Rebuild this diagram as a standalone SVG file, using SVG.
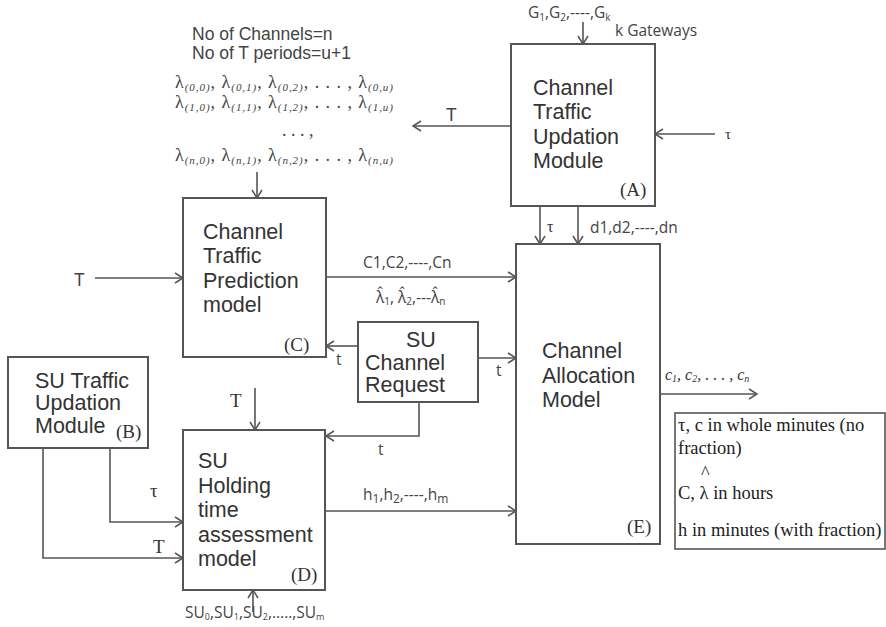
<svg xmlns="http://www.w3.org/2000/svg" width="886" height="627" viewBox="0 0 886 627">
<style>
.box{fill:#fff;stroke:#555;stroke-width:2}
.lbl{font-family:"Liberation Sans",Arial,sans-serif;font-size:21.5px;fill:#333}
.tag{font-family:"Liberation Serif","Times New Roman",serif;font-size:19px;fill:#333}
.sm{font-family:"Open Sans","Liberation Sans",sans-serif;font-size:15.5px;fill:#444}
.ser{font-family:"Liberation Serif","Times New Roman",serif;fill:#333}
.lam{font-family:"Liberation Serif","Times New Roman",serif;font-size:18px;fill:#444}
.sub{font-size:11px;font-style:italic}
.note{font-family:"Liberation Sans",Arial,sans-serif;font-size:17.5px;fill:#444}
.leg{font-family:"Liberation Serif","Times New Roman",serif;font-size:18.5px;fill:#222}
.con{fill:none;stroke:#555;stroke-width:1.6}
</style>
<defs>
<marker id="ah" markerWidth="12" markerHeight="12" refX="10" refY="6" orient="auto" markerUnits="userSpaceOnUse">
<path d="M2,1 L10,6 L2,11" fill="none" stroke="#555" stroke-width="1.5"/>
</marker>
</defs>
<rect width="886" height="627" fill="#fff"/>

<g id="connectors">
<path class="con" d="M583,22 V44" marker-end="url(#ah)"/>
<path class="con" d="M511,126 H413" marker-end="url(#ah)"/>
<path class="con" d="M715,134 H655" marker-end="url(#ah)"/>
<path class="con" d="M540,206 V244" marker-end="url(#ah)"/>
<path class="con" d="M578,206 V244" marker-end="url(#ah)"/>
<path class="con" d="M257,172 V198" marker-end="url(#ah)"/>
<path class="con" d="M95,278 H183" marker-end="url(#ah)"/>
<path class="con" d="M326,277 H516" marker-end="url(#ah)"/>
<path class="con" d="M358,346 H326" marker-end="url(#ah)"/>
<path class="con" d="M478,358 H516" marker-end="url(#ah)"/>
<path class="con" d="M419,402 V436 H326" marker-end="url(#ah)"/>
<path class="con" d="M255,388 V430" marker-end="url(#ah)"/>
<path class="con" d="M110,448 V522 H183" marker-end="url(#ah)"/>
<path class="con" d="M43,448 V558 H183" marker-end="url(#ah)"/>
<path class="con" d="M253,612 V590" marker-end="url(#ah)"/>
<path class="con" d="M326,511 H516" marker-end="url(#ah)"/>
<path class="con" d="M660,394 H757" marker-end="url(#ah)"/>
<text class="sm" x="528" y="18">G<tspan font-size="10" dy="3">1</tspan><tspan dy="-3">,G</tspan><tspan font-size="10" dy="3">2</tspan><tspan dy="-3">,----,G</tspan><tspan font-size="10" dy="3">k</tspan></text>
<text class="sm" x="615" y="36">k Gateways</text>
<text class="note" x="446" y="121">T</text>
<text class="ser" x="725" y="139" font-size="15">τ</text>
<text class="ser" x="547" y="232" font-size="16">τ</text>
<text class="sm" x="590" y="233">d1,d2,----,dn</text>
<text class="note" x="74" y="286">T</text>
<text class="sm" x="363" y="268">C1,C2,----,Cn</text>
<text class="sm" x="376" y="303" font-size="16">λ̂<tspan font-size="10" dy="2">1</tspan><tspan dy="-2">, λ̂</tspan><tspan font-size="10" dy="2">2</tspan><tspan dy="-2">,---λ̂</tspan><tspan font-size="10" dy="2">n</tspan></text>
<text class="sm" x="336" y="365" font-size="18">t</text>
<text class="sm" x="496" y="376" font-size="18">t</text>
<text class="sm" x="378" y="455" font-size="18">t</text>
<text class="ser" x="230" y="407" font-size="19">T</text>
<text class="ser" x="150" y="497" font-size="19">τ</text>
<text class="ser" x="153" y="553" font-size="19">T</text>
<text class="sm" x="363" y="500" font-size="18.5">h<tspan font-size="12" dy="3">1</tspan><tspan dy="-3">,h</tspan><tspan font-size="12" dy="3">2</tspan><tspan dy="-3">,----,h</tspan><tspan font-size="12" dy="3">m</tspan></text>
<text class="sm" x="185" y="618" font-size="12.5">SU<tspan font-size="9" dy="2">0</tspan><tspan dy="-2">,SU</tspan><tspan font-size="9" dy="2">1</tspan><tspan dy="-2">,SU</tspan><tspan font-size="9" dy="2">2</tspan><tspan dy="-2">,.....,SU</tspan><tspan font-size="9" dy="2">m</tspan></text>
<text class="ser" x="665" y="380" font-size="16" font-style="italic">c<tspan font-size="10" dy="2">1</tspan><tspan dy="-2">, c</tspan><tspan font-size="10" dy="2">2</tspan><tspan dy="-2">, . . . , c</tspan><tspan font-size="10" dy="2">n</tspan></text>
</g>

<g id="notes">
<text class="note" x="192" y="40">No of Channels=n</text>
<text class="note" x="192" y="59">No of T periods=u+1</text>
<text class="lam" x="175" y="88" textLength="218" lengthAdjust="spacing">λ<tspan class="sub" dy="3">(0,0)</tspan><tspan dy="-3">, λ</tspan><tspan class="sub" dy="3">(0,1)</tspan><tspan dy="-3">, λ</tspan><tspan class="sub" dy="3">(0,2)</tspan><tspan dy="-3">, . . . , λ</tspan><tspan class="sub" dy="3">(0,u)</tspan></text>
<text class="lam" x="175" y="108" textLength="218" lengthAdjust="spacing">λ<tspan class="sub" dy="3">(1,0)</tspan><tspan dy="-3">, λ</tspan><tspan class="sub" dy="3">(1,1)</tspan><tspan dy="-3">, λ</tspan><tspan class="sub" dy="3">(1,2)</tspan><tspan dy="-3">, . . . , λ</tspan><tspan class="sub" dy="3">(1,u)</tspan></text>
<text class="lam" x="282" y="136">. . . ,</text>
<text class="lam" x="175" y="161" textLength="218" lengthAdjust="spacing">λ<tspan class="sub" dy="3">(n,0)</tspan><tspan dy="-3">, λ</tspan><tspan class="sub" dy="3">(n,1)</tspan><tspan dy="-3">, λ</tspan><tspan class="sub" dy="3">(n,2)</tspan><tspan dy="-3">, . . . , λ</tspan><tspan class="sub" dy="3">(n,u)</tspan></text>
</g>

<g id="nodeA">
<rect class="box" x="511" y="44" width="144" height="162"/>
<text class="lbl" x="533" y="95">Channel</text>
<text class="lbl" x="533" y="119">Traffic</text>
<text class="lbl" x="533" y="144">Updation</text>
<text class="lbl" x="533" y="168">Module</text>
<text class="tag" x="620" y="196">(A)</text>
</g>

<g id="nodeC">
<rect class="box" x="183" y="198" width="143" height="159"/>
<text class="lbl" x="203" y="239">Channel</text>
<text class="lbl" x="203" y="263">Traffic</text>
<text class="lbl" x="203" y="288">Prediction</text>
<text class="lbl" x="203" y="312">model</text>
<text class="tag" x="284" y="351">(C)</text>
</g>

<g id="nodeSUReq">
<rect class="box" x="358" y="322" width="120" height="80"/>
<text class="lbl" x="406" y="347">SU</text>
<text class="lbl" x="365" y="370">Channel</text>
<text class="lbl" x="365" y="392">Request</text>
</g>

<g id="nodeE">
<rect class="box" x="516" y="244" width="144" height="300"/>
<text class="lbl" x="542" y="358">Channel</text>
<text class="lbl" x="542" y="383">Allocation</text>
<text class="lbl" x="542" y="407">Model</text>
<text class="tag" x="627" y="533">(E)</text>
</g>

<g id="nodeB">
<rect class="box" x="8" y="357" width="140" height="91"/>
<text class="lbl" x="35" y="388">SU Traffic</text>
<text class="lbl" x="35" y="410">Updation</text>
<text class="lbl" x="35" y="433">Module</text>
<text class="tag" x="116" y="438" font-size="17">(B)</text>
</g>

<g id="nodeD">
<rect class="box" x="183" y="430" width="142" height="160"/>
<text class="lbl" x="198" y="468">SU</text>
<text class="lbl" x="198" y="493">Holding</text>
<text class="lbl" x="198" y="517">time</text>
<text class="lbl" x="198" y="542">assessment</text>
<text class="lbl" x="198" y="566">model</text>
<text class="tag" x="291" y="581">(D)</text>
</g>

<g id="legend">
<rect x="675" y="413" width="210" height="136" fill="#fff" stroke="#555" stroke-width="1.6"/>
<text class="leg" x="678" y="431">τ, c in whole minutes (no</text>
<text class="leg" x="678" y="454">fraction)</text>
<text class="leg" x="701" y="479" font-size="16">^</text>
<text class="leg" x="678" y="499">C, λ in hours</text>
<text class="leg" x="678" y="536">h in minutes (with fraction)</text>
</g>
</svg>
